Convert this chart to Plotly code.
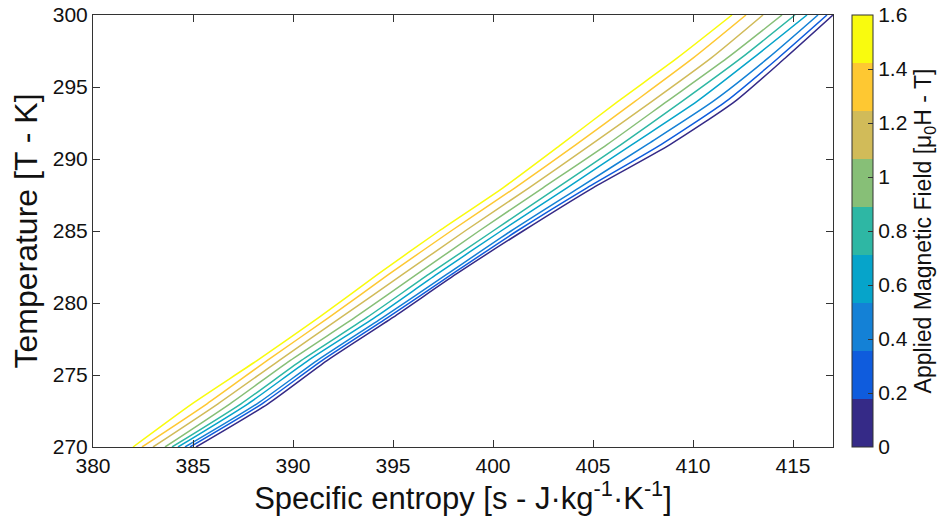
import plotly.graph_objects as go

# Temperature levels (K) at which entropy values were read
temperature = [270, 273, 276, 279, 282, 285, 288, 291, 294, 297, 300]

# Applied magnetic field levels (T)
fields = [0.0, 0.2, 0.4, 0.6, 0.8, 1.0, 1.2, 1.4, 1.6]

# Specific entropy (J/kg/K) per field, at each temperature level
s_0_0 = [385.15, 388.75, 391.7, 395.0, 398.15, 401.5, 405.0, 408.85, 412.1, 414.6, 417.0]
s_0_2 = [384.85, 388.45, 391.45, 394.75, 397.95, 401.2, 404.7, 408.4, 411.65, 414.25, 416.7]
s_0_4 = [384.6, 388.2, 391.2, 394.5, 397.7, 400.9, 404.3, 407.7, 411.0, 413.75, 416.25]
s_0_6 = [384.25, 387.75, 390.75, 394.1, 397.2, 400.4, 403.7, 406.95, 410.2, 413.0, 415.7]
s_0_8 = [383.95, 387.4, 390.4, 393.7, 396.8, 400.0, 403.2, 406.4, 409.45, 412.4, 415.1]
s_1_0 = [383.6, 386.85, 389.85, 393.1, 396.2, 399.3, 402.5, 405.7, 408.7, 411.7, 414.45]
s_1_2 = [383.0, 386.25, 389.3, 392.4, 395.5, 398.6, 401.8, 404.9, 407.95, 410.9, 413.5]
s_1_4 = [382.45, 385.7, 388.7, 391.8, 394.8, 397.9, 401.1, 404.15, 407.1, 410.0, 412.65]
s_1_6 = [382.0, 384.95, 388.2, 391.3, 394.25, 397.3, 400.5, 403.4, 406.25, 409.2, 411.95]

entropy_series = [s_0_0, s_0_2, s_0_4, s_0_6, s_0_8, s_1_0, s_1_2, s_1_4, s_1_6]

colors = ["#352a87", "#0f5cdd", "#1481d6", "#06a4ca", "#2eb7a4",
          "#87bf77", "#d1bb59", "#fec832", "#f9fb0e"]

x_ticks = [380, 385, 390, 395, 400, 405, 410, 415]
y_ticks = [270, 275, 280, 285, 290, 295, 300]
cb_ticks = [0, 0.2, 0.4, 0.6, 0.8, 1.0, 1.2, 1.4, 1.6]
cb_text = ["0", "0.2", "0.4", "0.6", "0.8", "1", "1.2", "1.4", "1.6"]

FONT = "Liberation Sans, Arial, Helvetica"

fig = go.Figure()
for f, s, c in zip(fields, entropy_series, colors):
    fig.add_trace(go.Scatter(x=s, y=temperature, mode="lines",
                             line=dict(color=c, width=1.5, shape="spline", smoothing=0.6),
                             showlegend=False, hoverinfo="skip", name=f"{f} T"))

# discrete colorscale (9 equal bands)
n = len(colors)
cs = []
for i, c in enumerate(colors):
    cs.append([i / n, c])
    cs.append([(i + 1) / n, c])

fig.add_trace(go.Scatter(
    x=[None], y=[None], mode="markers", showlegend=False,
    marker=dict(color=[0], colorscale=cs, cmin=0, cmax=1.6, showscale=True,
                colorbar=dict(
                    x=1.0257, xanchor="left", xref="paper", xpad=0, ypad=0,
                    y=0.5, yanchor="middle", len=1.0, lenmode="fraction",
                    thickness=21, outlinewidth=1, outlinecolor="#333",
                    tickvals=cb_ticks, ticktext=cb_text,
                    ticks="inside", ticklen=5, tickcolor="#333",
                    ticklabeloverflow="allow",
                    tickfont=dict(family=FONT, size=21, color="#111"),
                    title=dict(text="Applied Magnetic Field [μ<sub>0</sub>H - T]",
                               side="right",
                               font=dict(family=FONT, size=23, color="#111")),
                ))))

axis_common = dict(showline=True, linecolor="#333", linewidth=1, mirror="ticks",
                   ticks="inside", ticklen=7, tickcolor="#333", showgrid=False,
                   zeroline=False, ticklabeloverflow="allow",
                   tickfont=dict(family=FONT, size=21, color="#111"))

fig.update_xaxes(range=[380, 417], tickvals=x_ticks,
                 title=dict(text="Specific entropy [s - J·kg<sup>-1</sup>·K<sup>-1</sup>]",
                            font=dict(family=FONT, size=31, color="#111"),
                            standoff=8),
                 **axis_common)
fig.update_yaxes(range=[270, 300], tickvals=y_ticks,
                 title=dict(text="Temperature [T - K]",
                            font=dict(family=FONT, size=32, color="#111"),
                            standoff=12),
                 **axis_common)

# page body adds an 8px offset, so the figure is sized to fit the window
fig.update_layout(width=931, height=508,
                  margin=dict(l=85, r=106, t=7, b=69, autoexpand=False),
                  plot_bgcolor="white", paper_bgcolor="white")

fig.write_html("out.html")
